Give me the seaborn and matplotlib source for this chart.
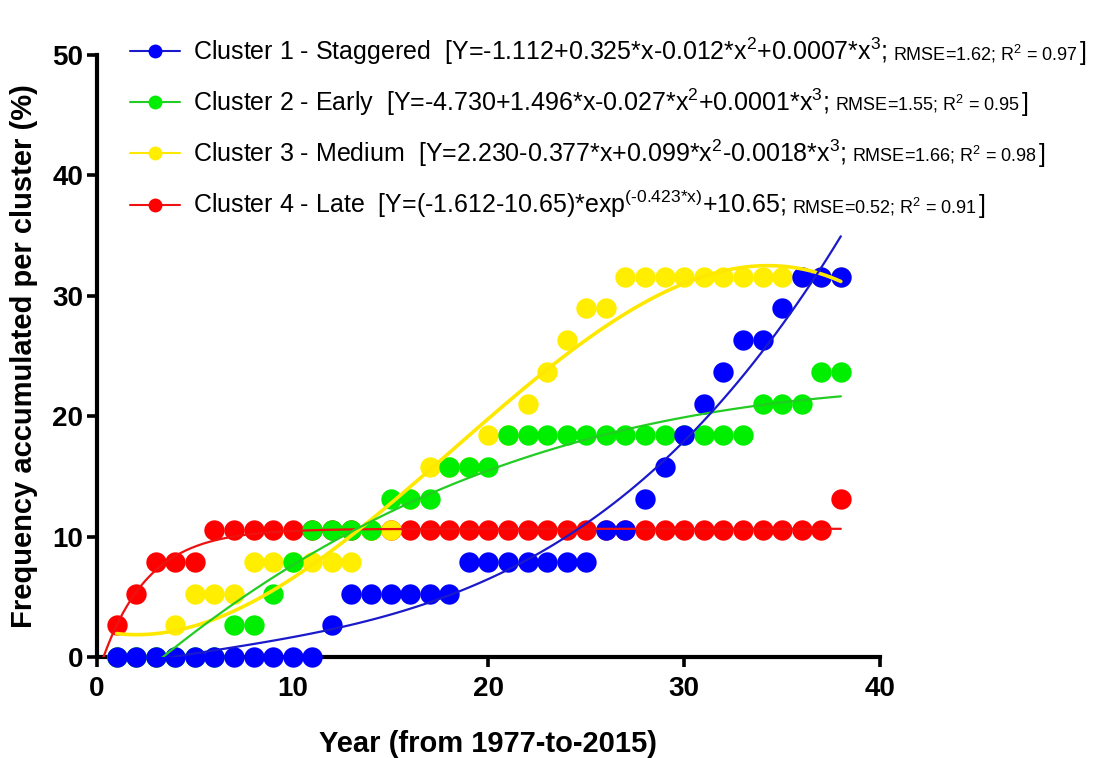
import numpy as np
import matplotlib
matplotlib.use('Agg')
import matplotlib.pyplot as plt
import matplotlib.transforms as mtransforms
import seaborn as sns
from matplotlib.lines import Line2D

# year index (1 = 1977 ... 38 = 2014/2015)
years = list(range(1, 39))

# accumulated frequency per cluster (%)
staggered = [0, 0, 0, 0, 0, 0, 0, 0, 0, 0, 0, 2.63, 5.26, 5.26, 5.26, 5.26, 5.26, 5.26,
             7.89, 7.89, 7.89, 7.89, 7.89, 7.89, 7.89, 10.53, 10.53, 13.16, 15.79, 18.42,
             21.05, 23.68, 26.32, 26.32, 28.95, 31.58, 31.58, 31.58]
early = [0, 0, 0, 0, 0, 0, 2.63, 2.63, 5.26, 7.89, 10.53, 10.53, 10.53, 10.53, 13.16, 13.16,
         13.16, 15.79, 15.79, 15.79, 18.42, 18.42, 18.42, 18.42, 18.42, 18.42, 18.42, 18.42,
         18.42, 18.42, 18.42, 18.42, 18.42, 21.05, 21.05, 21.05, 23.68, 23.68]
medium = [0, 0, 0, 2.63, 5.26, 5.26, 5.26, 7.89, 7.89, 7.89, 7.89, 7.89, 7.89, 10.53, 10.53,
          13.16, 15.79, 15.79, 15.79, 18.42, 18.42, 21.05, 23.68, 26.32, 28.95, 28.95, 31.58,
          31.58, 31.58, 31.58, 31.58, 31.58, 31.58, 31.58, 31.58, 31.58, 31.58, 31.58]
late = [2.63, 5.26, 7.89, 7.89, 7.89, 10.53, 10.53, 10.53, 10.53, 10.53, 10.53, 10.53, 10.53,
        10.53, 10.53, 10.53, 10.53, 10.53, 10.53, 10.53, 10.53, 10.53, 10.53, 10.53, 10.53,
        10.53, 10.53, 10.53, 10.53, 10.53, 10.53, 10.53, 10.53, 10.53, 10.53, 10.53, 10.53, 13.16]

# one-phase exponential fit printed for cluster 4
late_y0, late_plateau, late_k = -1.612, 10.65, 0.423

labels = [
    r"Cluster 1 - Staggered  [Y=-1.112+0.325*x-0.012*x$^\mathregular{2}$+0.0007*x$^\mathregular{3}$;",
    r"Cluster 2 - Early  [Y=-4.730+1.496*x-0.027*x$^\mathregular{2}$+0.0001*x$^\mathregular{3}$;",
    r"Cluster 3 - Medium  [Y=2.230-0.377*x+0.099*x$^\mathregular{2}$-0.0018*x$^\mathregular{3}$;",
    r"Cluster 4 - Late  [Y=(-1.612-10.65)*exp$^{\text{(-0.423*x)}}$+10.65;",
]
stats = [
    r"RMSE=1.62; R$^\mathregular{2}$ = 0.97",
    r"RMSE=1.55; R$^\mathregular{2}$ = 0.95",
    r"RMSE=1.66; R$^\mathregular{2}$ = 0.98",
    r"RMSE=0.52; R$^\mathregular{2}$ = 0.91",
]
dot_colors = ['#0000ff', '#00ee00', '#ffee00', '#ff0000']
line_colors = ['#1a1acc', '#22cc22', '#ffe800', '#ee1111']

sns.set_style('ticks')
plt.rcParams.update({
    'font.family': ['Liberation Sans', 'DejaVu Sans'],
    'mathtext.fontset': 'custom',
    'mathtext.rm': 'Liberation Sans',
    'mathtext.it': 'Liberation Sans:italic',
    'mathtext.bf': 'Liberation Sans:bold',
    'axes.unicode_minus': False,
    'text.color': 'black',
    'axes.labelcolor': 'black',
    'axes.edgecolor': 'black',
    'xtick.color': 'black',
    'ytick.color': 'black',
})

fig = plt.figure(figsize=(11.08, 7.58), dpi=100)
ax = fig.add_axes([0.0875, 0.1332, 0.7067, 0.7942])

# dots: red at the bottom, blue on top
series = [(late, 3), (medium, 4), (early, 5), (staggered, 6)]
for (vals, z), col in zip(series, dot_colors[::-1]):
    sns.scatterplot(x=years, y=vals, color=col, s=215, linewidth=0, zorder=z,
                    clip_on=False, ax=ax)

# fitted curves
xs = np.linspace(0, 38, 400)
ys = (late_y0 - late_plateau) * np.exp(-late_k * xs) + late_plateau
sns.lineplot(x=xs, y=ys, color=line_colors[3], lw=1.6, zorder=7, ax=ax)
sns.regplot(x=years, y=medium, order=3, ci=None, scatter=False, ax=ax,
            line_kws=dict(color=line_colors[2], lw=2.6, zorder=7))
sns.regplot(x=years, y=early, order=3, ci=None, scatter=False, ax=ax,
            line_kws=dict(color=line_colors[1], lw=1.6, zorder=7))
sns.regplot(x=years, y=staggered, order=3, ci=None, scatter=False, ax=ax,
            line_kws=dict(color=line_colors[0], lw=1.6, zorder=7))

ax.set_xlim(0, 40)
ax.set_ylim(0, 50)
ax.set_xticks([0, 10, 20, 30, 40])
ax.set_yticks([0, 10, 20, 30, 40, 50])
sns.despine(ax=ax)
for side in ['left', 'bottom']:
    ax.spines[side].set_linewidth(3)
ax.tick_params(axis='both', direction='out', length=7, width=2.6, labelsize=20)
ax.tick_params(axis='y', pad=3)
ax.tick_params(axis='x', pad=7)
for lab in ax.get_xticklabels() + ax.get_yticklabels():
    lab.set_fontweight('bold')
ax.set_xlabel('Year (from 1977-to-2015)', fontsize=21, fontweight='bold', labelpad=20)
ax.set_ylabel('Frequency accumulated per cluster (%)', fontsize=21, fontweight='bold', labelpad=10)

handles = [Line2D([], [], color=lc, lw=1.5, marker='o', markersize=10,
                  markerfacecolor=dc, markeredgewidth=0)
           for dc, lc in zip(dot_colors, line_colors)]
leg = fig.legend(handles, labels, loc='upper left', bbox_to_anchor=(0.117, 0.953),
                 frameon=False, fontsize=18, handlelength=2.0, handletextpad=0.52,
                 labelspacing=0.78, borderpad=0, borderaxespad=0)

# smaller RMSE / R2 part after each legend entry
fig.canvas.draw()
renderer = fig.canvas.get_renderer()
ident = mtransforms.IdentityTransform()
for t, s in zip(leg.get_texts(), stats):
    bb = t.get_window_extent(renderer)
    xb, yb = t.get_transform().transform(t.get_position())
    small = fig.text(bb.x1 + 6, yb, s, fontsize=13, transform=ident, va='baseline')
    bb2 = small.get_window_extent(renderer)
    fig.text(bb2.x1 + 2, yb, ']', fontsize=18, transform=ident, va='baseline')

fig.savefig('out.png', dpi=100)
